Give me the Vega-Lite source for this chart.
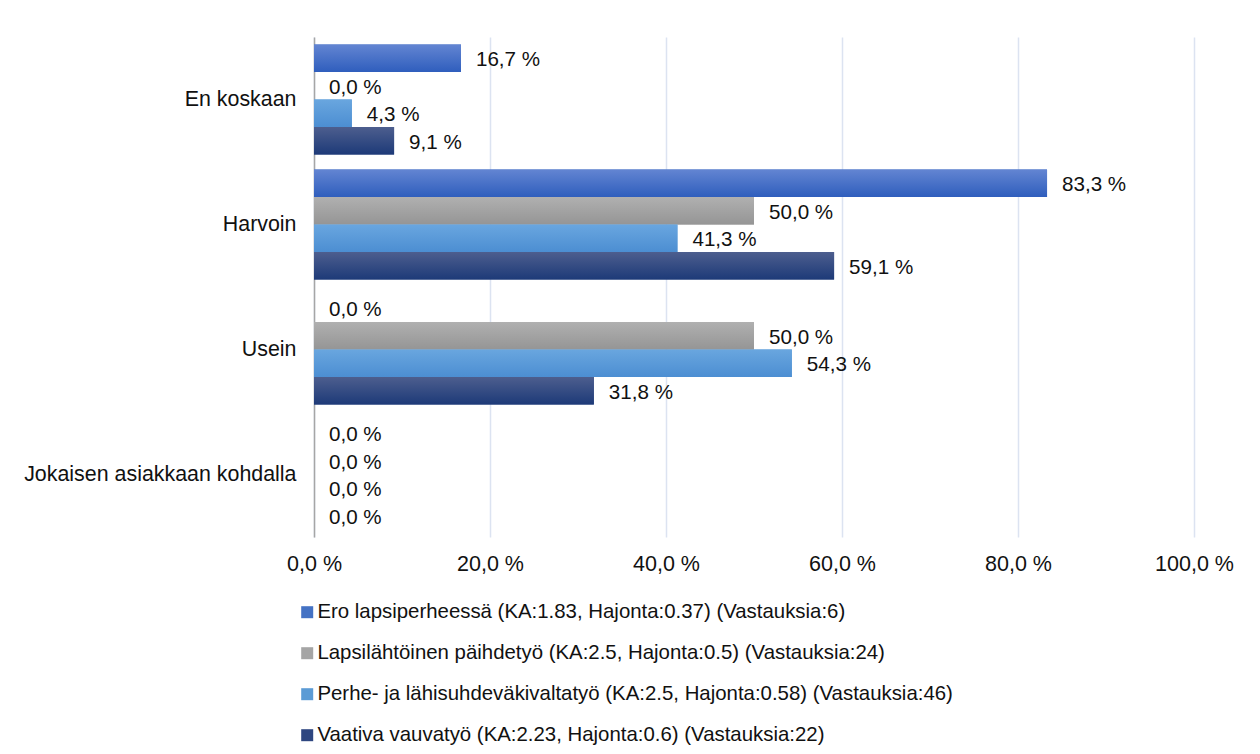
{
  "$schema": "https://vega.github.io/schema/vega-lite/v6.json",
  "width": 880,
  "height": 500,
  "autosize": {"type": "none"},
  "padding": {"left": 314, "top": 37, "right": 66, "bottom": 217},
  "background": "white",
  "config": {
    "font": "Liberation Sans",
    "view": {"stroke": null},
    "text": {"font": "Liberation Sans"}
  },
  "data": {
    "values": [
      {"cat": "En koskaan", "s": "Ero lapsiperheessä (KA:1.83, Hajonta:0.37) (Vastauksia:6)", "v": 16.7},
      {"cat": "En koskaan", "s": "Lapsilähtöinen päihdetyö (KA:2.5, Hajonta:0.5) (Vastauksia:24)", "v": 0.0},
      {"cat": "En koskaan", "s": "Perhe- ja lähisuhdeväkivaltatyö (KA:2.5, Hajonta:0.58) (Vastauksia:46)", "v": 4.3},
      {"cat": "En koskaan", "s": "Vaativa vauvatyö (KA:2.23, Hajonta:0.6) (Vastauksia:22)", "v": 9.1},
      {"cat": "Harvoin", "s": "Ero lapsiperheessä (KA:1.83, Hajonta:0.37) (Vastauksia:6)", "v": 83.3},
      {"cat": "Harvoin", "s": "Lapsilähtöinen päihdetyö (KA:2.5, Hajonta:0.5) (Vastauksia:24)", "v": 50.0},
      {"cat": "Harvoin", "s": "Perhe- ja lähisuhdeväkivaltatyö (KA:2.5, Hajonta:0.58) (Vastauksia:46)", "v": 41.3},
      {"cat": "Harvoin", "s": "Vaativa vauvatyö (KA:2.23, Hajonta:0.6) (Vastauksia:22)", "v": 59.1},
      {"cat": "Usein", "s": "Ero lapsiperheessä (KA:1.83, Hajonta:0.37) (Vastauksia:6)", "v": 0.0},
      {"cat": "Usein", "s": "Lapsilähtöinen päihdetyö (KA:2.5, Hajonta:0.5) (Vastauksia:24)", "v": 50.0},
      {"cat": "Usein", "s": "Perhe- ja lähisuhdeväkivaltatyö (KA:2.5, Hajonta:0.58) (Vastauksia:46)", "v": 54.3},
      {"cat": "Usein", "s": "Vaativa vauvatyö (KA:2.23, Hajonta:0.6) (Vastauksia:22)", "v": 31.8},
      {"cat": "Jokaisen asiakkaan kohdalla", "s": "Ero lapsiperheessä (KA:1.83, Hajonta:0.37) (Vastauksia:6)", "v": 0.0},
      {"cat": "Jokaisen asiakkaan kohdalla", "s": "Lapsilähtöinen päihdetyö (KA:2.5, Hajonta:0.5) (Vastauksia:24)", "v": 0.0},
      {"cat": "Jokaisen asiakkaan kohdalla", "s": "Perhe- ja lähisuhdeväkivaltatyö (KA:2.5, Hajonta:0.58) (Vastauksia:46)", "v": 0.0},
      {"cat": "Jokaisen asiakkaan kohdalla", "s": "Vaativa vauvatyö (KA:2.23, Hajonta:0.6) (Vastauksia:22)", "v": 0.0}
    ]
  },
  "transform": [
    {"calculate": "replace(format(datum.v, '.1f'), '.', ',') + ' %'", "as": "lab"}
  ],
  "encoding": {
    "y": {
      "field": "cat",
      "type": "nominal",
      "sort": ["En koskaan", "Harvoin", "Usein", "Jokaisen asiakkaan kohdalla"],
      "scale": {"paddingInner": 0, "paddingOuter": 0},
      "title": null,
      "axis": {
        "labelFontSize": 21.4,
        "labelColor": "#111111",
        "labelPadding": 18,
        "labelLimit": 0,
        "ticks": false,
        "grid": false,
        "domain": true,
        "domainColor": "#A6A6A6",
        "domainWidth": 1.5
      }
    },
    "yOffset": {
      "field": "s",
      "type": "nominal",
      "scale": {
        "domain": [
          "Ero lapsiperheessä (KA:1.83, Hajonta:0.37) (Vastauksia:6)",
          "Lapsilähtöinen päihdetyö (KA:2.5, Hajonta:0.5) (Vastauksia:24)",
          "Perhe- ja lähisuhdeväkivaltatyö (KA:2.5, Hajonta:0.58) (Vastauksia:46)",
          "Vaativa vauvatyö (KA:2.23, Hajonta:0.6) (Vastauksia:22)"
        ],
        "paddingInner": 0,
        "paddingOuter": 0.27
      }
    },
    "x": {
      "field": "v",
      "type": "quantitative",
      "scale": {"domain": [0, 100], "nice": false},
      "title": null,
      "axis": {
        "values": [0, 20, 40, 60, 80, 100],
        "labelExpr": "replace(format(datum.value, '.1f'), '.', ',') + ' %'",
        "labelFontSize": 21.5,
        "labelColor": "#111111",
        "labelPadding": 16,
        "labelFlush": false,
        "domain": false,
        "ticks": false,
        "grid": true,
        "gridColor": "#DCE3F1",
        "gridWidth": 1.5
      }
    }
  },
  "layer": [
    {
      "mark": {"type": "bar"},
      "encoding": {
        "color": {
          "field": "s",
          "type": "nominal",
          "scale": {
            "domain": [
              "Ero lapsiperheessä (KA:1.83, Hajonta:0.37) (Vastauksia:6)",
              "Lapsilähtöinen päihdetyö (KA:2.5, Hajonta:0.5) (Vastauksia:24)",
              "Perhe- ja lähisuhdeväkivaltatyö (KA:2.5, Hajonta:0.58) (Vastauksia:46)",
              "Vaativa vauvatyö (KA:2.23, Hajonta:0.6) (Vastauksia:22)"
            ],
            "range": ["#4472C4", "#A5A5A5", "#5B9BD5", "#2E4680"]
          },
          "legend": {
            "orient": "none",
            "legendX": -17,
            "legendY": 565,
            "direction": "vertical",
            "title": null,
            "symbolType": "square",
            "symbolSize": 144,
            "symbolStrokeWidth": 0,
            "labelFontSize": 20.4,
            "labelColor": "#111111",
            "labelLimit": 0,
            "labelOffset": 0,
            "rowPadding": 20,
            "padding": 0
          }
        }
      }
    },
    {
      "transform": [{"filter": "datum.s === 'Ero lapsiperheessä (KA:1.83, Hajonta:0.37) (Vastauksia:6)'"}],
      "mark": {
        "type": "bar",
        "color": {"gradient": "linear", "x1": 0, "y1": 0, "x2": 0, "y2": 1,
          "stops": [{"offset": 0, "color": "#6385D2"}, {"offset": 1, "color": "#2F5EBD"}]}
      }
    },
    {
      "transform": [{"filter": "datum.s === 'Lapsilähtöinen päihdetyö (KA:2.5, Hajonta:0.5) (Vastauksia:24)'"}],
      "mark": {
        "type": "bar",
        "color": {"gradient": "linear", "x1": 0, "y1": 0, "x2": 0, "y2": 1,
          "stops": [{"offset": 0, "color": "#B0B0B0"}, {"offset": 1, "color": "#959595"}]}
      }
    },
    {
      "transform": [{"filter": "datum.s === 'Perhe- ja lähisuhdeväkivaltatyö (KA:2.5, Hajonta:0.58) (Vastauksia:46)'"}],
      "mark": {
        "type": "bar",
        "color": {"gradient": "linear", "x1": 0, "y1": 0, "x2": 0, "y2": 1,
          "stops": [{"offset": 0, "color": "#69A6DF"}, {"offset": 1, "color": "#4C8ED2"}]}
      }
    },
    {
      "transform": [{"filter": "datum.s === 'Vaativa vauvatyö (KA:2.23, Hajonta:0.6) (Vastauksia:22)'"}],
      "mark": {
        "type": "bar",
        "color": {"gradient": "linear", "x1": 0, "y1": 0, "x2": 0, "y2": 1,
          "stops": [{"offset": 0, "color": "#4D5E8E"}, {"offset": 1, "color": "#1D3A78"}]}
      }
    },
    {
      "mark": {"type": "text", "align": "left", "baseline": "middle", "dx": 15, "dy": 2, "fontSize": 20.6, "color": "#111111"},
      "encoding": {"text": {"field": "lab", "type": "nominal"}}
    }
  ]
}
